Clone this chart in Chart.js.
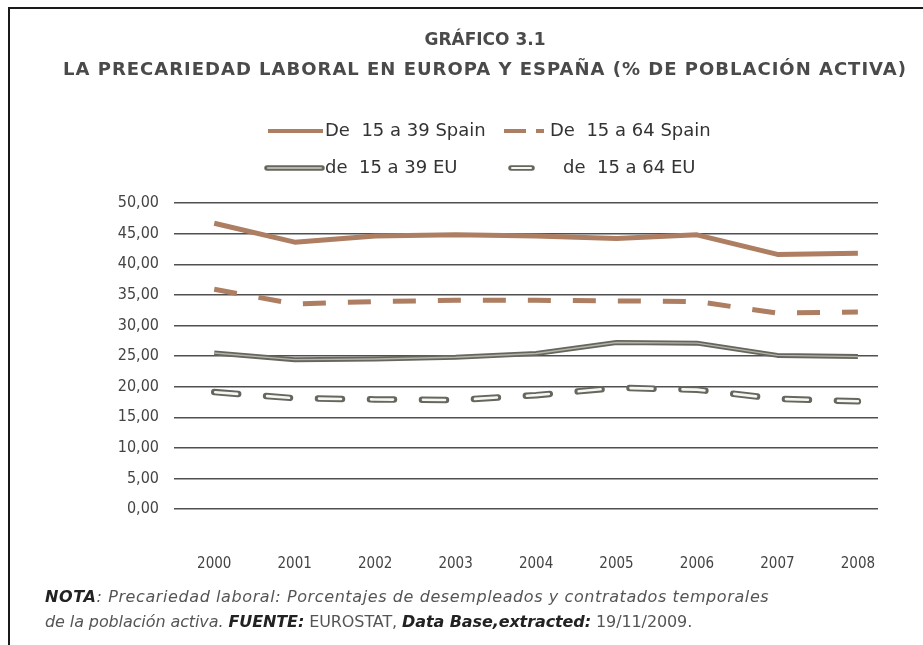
<!DOCTYPE html>
<html>
<head>
<meta charset="UTF-8">
<script src="https://cdn.jsdelivr.net/npm/chart.js"></script>
<style>
  html, body { margin:0; padding:0; background:#fff; overflow:hidden; }
  body { width:923px; height:645px; position:relative; font-family:'DejaVu Sans', sans-serif; }
  #frame { position:absolute; left:8px; top:7px; width:913px; height:636px; border-left:2px solid #1a1a1a; border-top:2px solid #1a1a1a; }
  #chart { position:absolute; left:0; top:0; }
  .t1, .t2 { position:absolute; left:0; width:970px; text-align:center; font-weight:bold; color:#4a4a4a; white-space:nowrap; }
  .t1 { top:29px; font-size:17px; }
  .t2 { top:58px; font-size:18px; letter-spacing:1px; }
  .nota { position:absolute; left:45px; font-family:'DejaVu Sans', sans-serif; font-size:16px; color:#555; font-style:italic; white-space:nowrap; }
  .nota b { color:#222; }
  .nota .up { font-style:normal; }
</style>
</head>
<body>
<div id="frame"></div>
<canvas id="chart" width="923" height="645"></canvas>
<div class="t1">GRÁFICO 3.1</div>
<div class="t2">LA PRECARIEDAD LABORAL EN EUROPA Y ESPAÑA (% DE POBLACIÓN ACTIVA)</div>
<div class="nota" style="top:587px; letter-spacing:0.6px;"><b>NOTA</b>: Precariedad laboral: Porcentajes de desempleados y contratados temporales</div>
<div class="nota" style="top:612px; letter-spacing:-0.1px;">de la población activa. <b>FUENTE:</b> <span class="up">EUROSTAT,</span> <b>Data Base,extracted:</b> <span class="up">19/11/2009.</span></div>

<script>
const years = [2000, 2001, 2002, 2003, 2004, 2005, 2006, 2007, 2008];
const yTicks = [0, 5, 10, 15, 20, 25, 30, 35, 40, 45, 50];

const spain39 = [46.7, 43.6, 44.6, 44.8, 44.6, 44.2, 44.8, 41.6, 41.8];
const spain64 = [35.9, 33.5, 33.9, 34.1, 34.1, 34.0, 33.9, 32.0, 32.2];
const eu39 = [25.5, 24.4, 24.5, 24.8, 25.4, 27.2, 27.1, 25.1, 24.9];
const eu64 = [19.1, 18.1, 17.9, 17.8, 18.6, 19.8, 19.5, 18.0, 17.6];

const legendNames = ['De  15 a 39 Spain', 'De  15 a 64 Spain', 'de  15 a 39 EU', 'de  15 a 64 EU'];

const brown = '#ad7e62';
const grayOut = '#66665e';
const grayIn = '#b4b4a8';
const whiteIn = '#f6f6f2';

const pts = (arr) => arr.map((v, i) => ({ x: years[i], y: v }));

// order: higher is drawn first, so the light inner strokes (order 0) sit on top
const datasets = [
  { label: legendNames[0], data: pts(spain39), borderColor: brown, borderWidth: 5, order: 1 },
  { label: legendNames[1], data: pts(spain64), borderColor: brown, borderWidth: 5, borderDash: [23, 22], order: 1 },
  { label: legendNames[2], data: pts(eu39), borderColor: grayOut, borderWidth: 5, order: 1 },
  { label: legendNames[2], data: pts(eu39), borderColor: grayIn, borderWidth: 1.4, order: 0 },
  { label: legendNames[3], data: pts(eu64), borderColor: grayOut, borderWidth: 6.5, borderDash: [24, 28], borderCapStyle: 'round', order: 1 },
  { label: legendNames[3], data: pts(eu64), borderColor: whiteIn, borderWidth: 2.6, borderDash: [22, 30], borderDashOffset: -1, borderCapStyle: 'round', order: 0 }
];

// legend drawn by hand: line samples differ a lot (double line, outlined dash)
const legendPlugin = {
  id: 'handLegend',
  afterDraw(chart) {
    const ctx = chart.ctx;
    const slots = [
      { x: 268, y: 131, w: 55, tx: 325 },
      { x: 504, y: 131, w: 40, tx: 550 },
      { x: 267, y: 168, w: 55, tx: 325 },
      { x: 511, y: 168, w: 21, tx: 563 }
    ];
    ctx.save();
    slots.forEach((s, i) => {
      ctx.lineCap = 'butt';
      ctx.setLineDash([]);
      if (i === 0) {
        ctx.strokeStyle = brown; ctx.lineWidth = 4;
        ctx.beginPath(); ctx.moveTo(s.x, s.y); ctx.lineTo(s.x + s.w, s.y); ctx.stroke();
      } else if (i === 1) {
        ctx.strokeStyle = brown; ctx.lineWidth = 4; ctx.setLineDash([22, 10]);
        ctx.beginPath(); ctx.moveTo(s.x, s.y); ctx.lineTo(s.x + s.w, s.y); ctx.stroke();
      } else {
        ctx.lineCap = 'round';
        ctx.strokeStyle = grayOut; ctx.lineWidth = 5.5;
        ctx.beginPath(); ctx.moveTo(s.x, s.y); ctx.lineTo(s.x + s.w, s.y); ctx.stroke();
        ctx.strokeStyle = i === 2 ? grayIn : whiteIn; ctx.lineWidth = 2;
        ctx.beginPath(); ctx.moveTo(s.x + 1, s.y); ctx.lineTo(s.x + s.w - 1, s.y); ctx.stroke();
      }
      ctx.fillStyle = '#333';
      ctx.font = '18px "DejaVu Sans", sans-serif';
      ctx.textBaseline = 'middle';
      ctx.textAlign = 'left';
      ctx.fillText(legendNames[i], s.tx, s.y);
    });
    ctx.restore();
  }
};

new Chart(document.getElementById('chart'), {
  type: 'line',
  data: { datasets },
  options: {
    responsive: false,
    animation: false,
    devicePixelRatio: 1,
    layout: { padding: { top: 203, left: 0, right: 45, bottom: 66 } },
    elements: { point: { radius: 0 }, line: { tension: 0, borderJoinStyle: 'round' } },
    plugins: { legend: { display: false }, title: { display: false }, tooltip: { enabled: false } },
    scales: {
      x: {
        type: 'linear',
        min: 1999.5,
        max: 2008.25,
        afterBuildTicks: (s) => { s.ticks = years.map(v => ({ value: v })); },
        afterFit: (s) => { s.height = 70; },
        grid: { display: false },
        border: { display: false },
        ticks: {
          padding: 38,
          maxRotation: 0,
          autoSkip: false,
          color: '#444',
          font: { family: '"DejaVu Sans Condensed", sans-serif', size: 15 },
          callback: (v) => String(v)
        }
      },
      y: {
        min: 0,
        max: 50,
        afterBuildTicks: (s) => { s.ticks = yTicks.map(v => ({ value: v })); },
        afterFit: (s) => { s.width = 174; },
        grid: { color: '#505050', lineWidth: 1.4, drawTicks: false },
        border: { display: false },
        ticks: {
          padding: 15,
          color: '#444',
          font: { family: '"DejaVu Sans Condensed", sans-serif', size: 16 },
          callback: (v) => v.toFixed(2).replace('.', ',')
        }
      }
    }
  },
  plugins: [legendPlugin]
});
</script>
</body>
</html>
